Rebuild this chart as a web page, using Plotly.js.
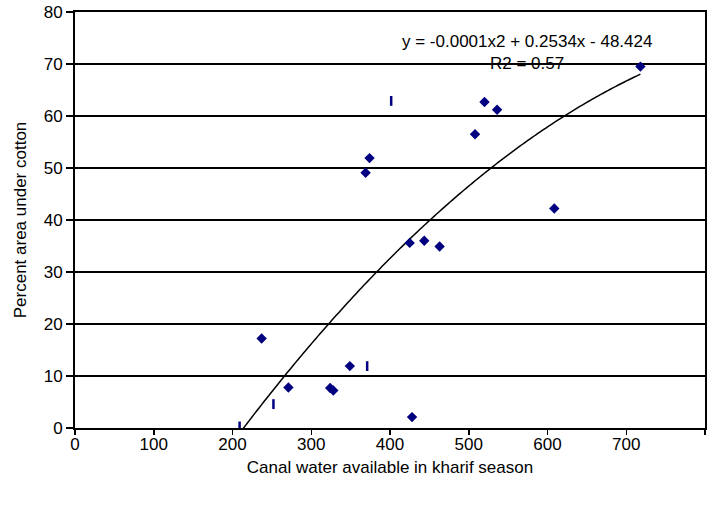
<!DOCTYPE html>
<html>
<head>
<meta charset="utf-8">
<script src="https://cdn.plot.ly/plotly-3.0.1.min.js"></script>
<style>html,body{margin:0;padding:0;background:#fff;}#chart{width:719px;height:505px;}</style>
</head>
<body>
<div id="chart"></div>
<script>
// Diamond-marker observations
var diamondX = [237, 271, 324, 328, 349, 428, 369, 374, 520, 536, 508, 425, 443.5, 463, 608.6, 718];
var diamondY = [17.2, 7.8, 7.7, 7.2, 11.9, 2.1, 49.1, 51.9, 62.7, 61.2, 56.5, 35.6, 36.0, 34.9, 42.2, 69.5];
// Bar-marker observations
var barX = [209, 252, 371, 401.5];
var barY = [0.3, 4.6, 11.9, 62.9];
// Trendline coefficients (polynomial order 2)
var coefA = -0.000127;
var coefB = 0.2534;
var coefC = -48.424;
var xTicks = [0, 100, 200, 300, 400, 500, 600, 700, 800];
var yTicks = [0, 10, 20, 30, 40, 50, 60, 70, 80];
var eqText = "y = -0.0001x2 + 0.2534x - 48.424";
var r2Text = "R2 = 0.57";

var allX = diamondX.concat(barX);
var xmin = Math.min.apply(null, allX), xmax = Math.max.apply(null, allX);
var tx = [], ty = [];
for (var i = 0; i <= 200; i++) {
  var x = xmin + (xmax - xmin) * i / 200;
  tx.push(x); ty.push(coefA * x * x + coefB * x + coefC);
}

var fam = "Liberation Sans, Arial, sans-serif";
var font = {family: fam, size: 17, color: "#000"};
var data = [
  {x: tx, y: ty, mode: "lines", line: {color: "#000", width: 1.5, simplify: false}, hoverinfo: "skip"},
  {x: diamondX, y: diamondY, mode: "markers", marker: {symbol: "diamond", size: 8, color: "#000080"}},
  {x: barX, y: barY, mode: "markers", marker: {symbol: "line-ns", size: 7, color: "#000080", line: {color: "#000080", width: 2.5}}}
];
var layout = {
  width: 719, height: 505,
  margin: {l: 75, r: 14, t: 11.5, b: 76.5},
  paper_bgcolor: "#fff", plot_bgcolor: "#fff",
  showlegend: false,
  font: font,
  xaxis: {
    range: [0, 800], tickvals: xTicks, ticktext: xTicks.map(String),
    showgrid: false, zeroline: false, showline: true, linecolor: "#000", linewidth: 2,
    ticks: "outside", ticklen: 5, tickwidth: 1.5, tickcolor: "#000",
    mirror: true,
    title: {text: "Canal water available in kharif season", font: {family: fam, size: 17, color: "#000"}, standoff: 9},
    tickfont: font
  },
  yaxis: {
    range: [0, 80], tickvals: yTicks, ticktext: yTicks.map(String),
    showgrid: true, gridcolor: "#000", gridwidth: 2, zeroline: false,
    showline: true, linecolor: "#000", linewidth: 2, mirror: true,
    ticks: "outside", ticklen: 7, tickwidth: 1.5, tickcolor: "#000",
    title: {text: "Percent area under cotton", font: {family: fam, size: 17, color: "#000"}, standoff: 13},
    tickfont: font
  },
  annotations: [
    {x: 574, y: 74.3, xref: "x", yref: "y", text: eqText, showarrow: false, font: font},
    {x: 574, y: 70.1, xref: "x", yref: "y", text: r2Text, showarrow: false, font: font}
  ]
};
Plotly.newPlot("chart", data, layout, {displayModeBar: false, staticPlot: true}).then(function () {
  // nudge x tick labels and title up slightly to match reference spacing
  var lbls = document.querySelectorAll(".xtick text");
  lbls.forEach(function (t) { t.setAttribute("y", parseFloat(t.getAttribute("y")) - 5); });
  var xt = document.querySelector(".g-xtitle text");
  if (xt) xt.setAttribute("y", parseFloat(xt.getAttribute("y")) - 6);
});
</script>
</body>
</html>
